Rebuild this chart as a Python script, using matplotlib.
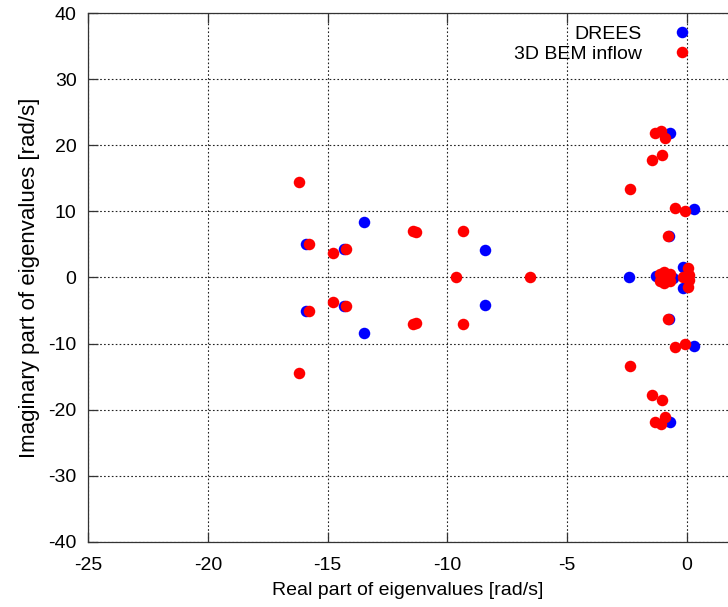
import matplotlib
matplotlib.use('Agg')
from matplotlib import pyplot as plt

plt.rcParams['font.family'] = ['Liberation Sans', 'DejaVu Sans']
plt.rcParams['axes.unicode_minus'] = False

# eigenvalues (real, imaginary) in rad/s
drees_re = [-15.9, -15.9, -14.3, -14.3, -13.47, -13.47, -8.45, -8.45, -2.4,
            -0.75, -0.75, -0.72, -0.72, 0.30, 0.30, -0.14, -0.14, -1.3, -0.58]
drees_im = [5.05, -5.05, 4.3, -4.3, 8.35, -8.35, 4.15, -4.15, 0.0,
            6.3, -6.3, 21.95, -21.95, 10.3, -10.3, 1.64, -1.64, 0.3, -0.1]

bem_re = [-16.2, -16.2, -15.8, -15.8, -14.77, -14.77, -14.24, -14.24,
          -11.45, -11.45, -11.3, -11.3, -9.33, -9.33, -9.64, -6.53,
          -2.39, -2.39, -1.46, -1.46, -1.32, -1.32, -1.08, -1.08, -0.9, -0.9,
          -1.02, -1.02, -0.49, -0.49, -0.07, -0.07, -0.79, -0.79,
          0.07, 0.07, 0.11, 0.11, -1.14, -1.14, -0.94, -0.94, -0.72, -0.72, -0.17]
bem_im = [14.5, -14.5, 5.05, -5.05, 3.72, -3.72, 4.27, -4.27,
          7.0, -7.0, 6.85, -6.85, 7.05, -7.05, 0.0, 0.0,
          13.4, -13.4, 17.8, -17.8, 21.9, -21.9, 22.2, -22.2, 21.1, -21.1,
          18.5, -18.5, 10.5, -10.5, 10.05, -10.05, 6.25, -6.25,
          1.5, -1.5, 0.4, -0.4, 0.5, -0.5, 0.82, -0.82, 0.5, -0.5, 0.0]

xticks = [-25, -20, -15, -10, -5, 0]
yticks = [-40, -30, -20, -10, 0, 10, 20, 30, 40]

fig = plt.figure(figsize=(7.28, 6.07), dpi=100)
ax = fig.add_axes([0.1213, 0.1076, 0.8787, 0.8705])

ax.plot(drees_re, drees_im, 'o', color='#0000ff', markersize=8.3,
        markeredgewidth=0, label='DREES')
ax.plot(bem_re, bem_im, 'o', color='#ff0000', markersize=8.3,
        markeredgewidth=0, label='3D BEM inflow')

ax.set_xlim(-25, 1.72)
ax.set_ylim(-40, 40)
ax.set_xticks(xticks)
ax.set_yticks(yticks)
ax.grid(True, color='#222222', linestyle=(0, (1.5, 2.0)), linewidth=0.8)
ax.set_axisbelow(True)

ax.spines['right'].set_visible(False)
for s in ['left', 'bottom', 'top']:
    ax.spines[s].set_linewidth(0.9)
    ax.spines[s].set_color('#333333')
ax.tick_params(direction='in', length=7, width=0.9, top=True, right=False,
               labelsize=14, color='#333333')
ax.tick_params(axis='x', pad=11)
ax.tick_params(axis='y', pad=8.5)

ax.set_xlabel('Real part of eigenvalues [rad/s]', fontsize=14, labelpad=6)
ax.set_ylabel('Imaginary part of eigenvalues [rad/s]', fontsize=16, labelpad=6)

ax.legend(loc='upper right', bbox_to_anchor=(0.9506, 0.9587),
          bbox_transform=fig.transFigure, frameon=False, markerfirst=False,
          fontsize=14, handlelength=1.0, handletextpad=1.59,
          labelspacing=0.15, borderpad=0, borderaxespad=0)

fig.savefig('out.png', dpi=100)
